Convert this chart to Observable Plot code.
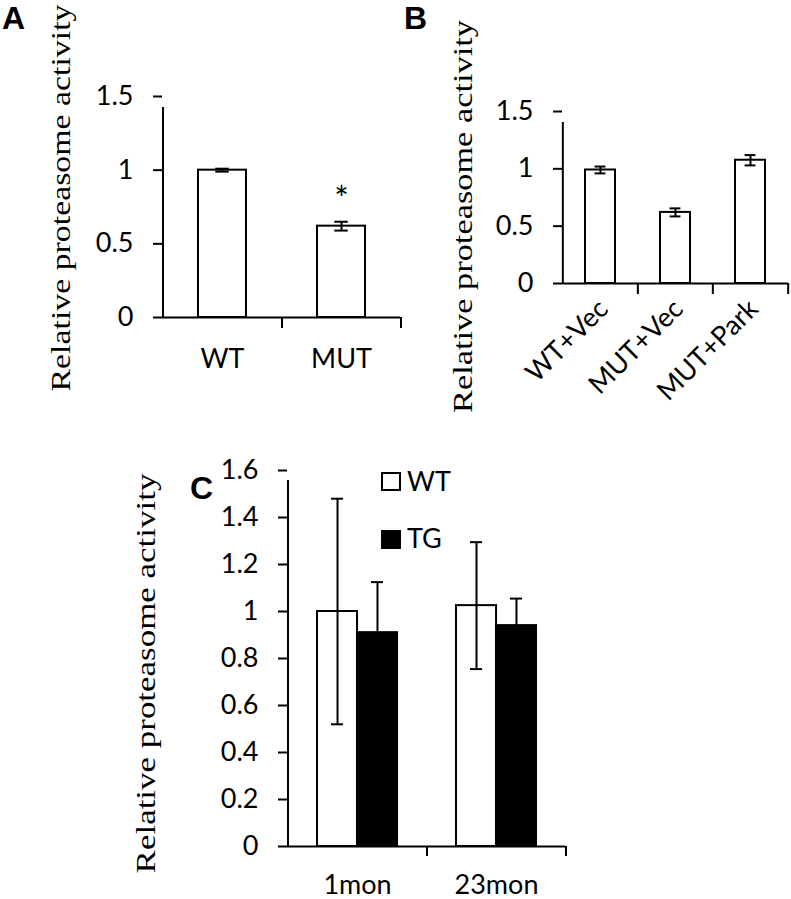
<!DOCTYPE html>
<html><head><meta charset="utf-8">
<script src="https://cdn.jsdelivr.net/npm/d3@7"></script>
<script src="https://cdn.jsdelivr.net/npm/@observablehq/plot@0.6"></script>
<style>
body{margin:0;background:#fff;}
#root{position:relative;width:791px;height:899px;overflow:hidden;background:#fff;}
.panel{position:absolute;}
.plabel{position:absolute;font-family:"Liberation Sans",Arial,sans-serif;font-weight:bold;font-size:32px;line-height:1;color:#000;}
.leg{position:absolute;font-family:Lato,sans-serif;font-size:27px;line-height:27px;color:#000;}
.sw{position:absolute;box-sizing:border-box;border:2px solid #000;}
</style></head><body><div id="root"></div>
<script>
// ---------- data ----------
const yTitle = "Relative proteasome activity";
// Panel A
const aCategories = ["WT", "MUT"];
const aMeans = [1.0, 0.62];
const aErrors = [0.01, 0.03];
const aSignif = ["", "*"];
const aYTicks = [0, 0.5, 1, 1.5];
// Panel B
const bCategories = ["WT+Vec", "MUT+Vec", "MUT+Park"];
const bMeans = [0.99, 0.62, 1.075];
const bErrors = [0.03, 0.035, 0.045];
const bYTicks = [0, 0.5, 1, 1.5];
// Panel C
const cGroups = ["1mon", "23mon"];
const cSeries = ["WT", "TG"];
const cWT = [1.0, 1.025];
const cWTErr = [0.48, 0.27];
const cTG = [0.91, 0.94];
const cTGErr = [0.215, 0.115];
const cYTicks = [0, 0.2, 0.4, 0.6, 0.8, 1, 1.2, 1.4, 1.6];
const cFills = ["white", "black"];

const FS = 27;
const root = document.getElementById("root");
const fmt = d => String(+(+d).toFixed(2));

function addPanel(svg, left, top, titleLen) {
  const d = document.createElement("div");
  d.className = "panel"; d.style.left = left + "px"; d.style.top = top + "px";
  d.appendChild(svg); root.appendChild(d);
  const t = svg.querySelector('text[aria-label="ytitle"]') || svg.querySelector('g[aria-label="ytitle"] text');
  if (t) {
    const nat = t.getComputedTextLength();
    const k = titleLen / nat;
    t.setAttribute("transform", (t.getAttribute("transform") || "") + ` scale(${k},1)`);
  }
}
function addLabel(txt, left, top) {
  const d = document.createElement("div");
  d.className = "plabel"; d.textContent = txt; d.style.left = left + "px"; d.style.top = top + "px";
  root.appendChild(d);
}
function titleMark(dx, dy) {
  return Plot.text([yTitle], {text: d => d, frameAnchor: "left", textAnchor: "middle", lineAnchor: "middle", rotate: -90, dx, dy,
    fontFamily: "Liberation Serif, Times New Roman, serif", fontSize: 28, fill: "black", ariaLabel: () => "ytitle"});
}

// generic single-series bar panel
function barPanel(o) {
  const rows = o.cats.map((c, i) => ({cat: c, mean: o.means[i], err: o.errs[i], sig: o.sig ? o.sig[i] : ""}));
  const step = (o.width - o.ml - o.mr) / o.cats.length;
  const pad = o.pad;
  const bw = step * (1 - pad);
  const capInset = (bw - o.cap) / 2;
  const yMax = d3.max(o.yTicks);
  const bOff = -step / 2; // offset from band center to band boundary
  const last = o.cats[o.cats.length - 1];
  return Plot.plot({
    width: o.width, height: o.height,
    marginLeft: o.ml, marginRight: o.mr, marginTop: o.mt, marginBottom: o.mb,
    style: {background: "transparent", color: "#000", fontFamily: "Lato, sans-serif", fontSize: FS + "px", overflow: "visible"},
    x: {domain: o.cats, type: "band", paddingInner: pad, paddingOuter: pad / 2, axis: null},
    y: {domain: [0, yMax], axis: null},
    marks: [
      Plot.barY(rows, {x: "cat", y: "mean", fill: "white", stroke: "black", strokeWidth: 2}),
      Plot.ruleX(rows, {x: "cat", y1: d => d.mean - d.err, y2: d => d.mean + d.err, stroke: "black", strokeWidth: 2}),
      Plot.tickY(rows, {x: "cat", y: d => d.mean + d.err, insetLeft: capInset, insetRight: capInset, stroke: "black", strokeWidth: 2}),
      Plot.tickY(rows, {x: "cat", y: d => d.mean - d.err, insetLeft: capInset, insetRight: capInset, stroke: "black", strokeWidth: 2}),
      Plot.text(rows, {x: "cat", y: d => d.mean + d.err, text: "sig", dy: -22, fontSize: 34, fill: "black"}),
      Plot.ruleY([0], {stroke: "black", strokeWidth: 2}),
      Plot.ruleX([o.cats[0]], {x: d => d, dx: bOff, y1: 0, y2: yMax, insetBottom: -11, stroke: "black", strokeWidth: 2}),
      Plot.ruleX(o.cats.slice(1), {x: d => d, dx: bOff, y1: 0, y2: 0, insetBottom: -11, stroke: "black", strokeWidth: 2}),
      Plot.ruleX([last], {x: d => d, dx: -bOff, y1: 0, y2: 0, insetBottom: -11, stroke: "black", strokeWidth: 2}),
      Plot.axisY(o.yTicks, {tickSize: 9, tickPadding: 20, tickFormat: fmt, strokeWidth: 2, label: null, fontSize: FS}),
      Plot.axisX({tickSize: 0, tickPadding: o.xPad, tickRotate: o.rot || 0, dx: o.xdx || 0, label: null, fontSize: FS}),
      titleMark(o.tdx, o.tdy)
    ]
  });
}

// Panel A
addPanel(barPanel({cats: aCategories, means: aMeans, errs: aErrors, sig: aSignif, yTicks: aYTicks,
  width: 402, height: 400, ml: 162, mr: 2, mt: 96, mb: 83, pad: 0.6, cap: 13, xPad: 31, tdx: -101, tdy: -9}), 0, 0, 387);
addLabel("A", 2, 2);

// Panel B
addPanel(barPanel({cats: bCategories, means: bMeans, errs: bErrors, yTicks: bYTicks,
  width: 391, height: 420, ml: 162, mr: 3, mt: 111, mb: 137, pad: 0.6, cap: 11, xPad: 21, xdx: 3, rot: -45, tdx: -99, tdy: 19}), 400, 0, 393);
addLabel("B", 404, 2);

// Panel C (grouped)
(function () {
  const rows = [];
  cGroups.forEach((g, i) => {
    rows.push({g, s: cSeries[0], mean: cWT[i], err: cWTErr[i]});
    rows.push({g, s: cSeries[1], mean: cTG[i], err: cTGErr[i]});
  });
  const width = 470, height = 459, ml = 187, mr = 5, mt = 30, mb = 53;
  const step = (width - ml - mr) / cGroups.length;
  const pad = 0.425;
  const bw = step * (1 - pad);
  const half = bw / 2;
  const cap = 12;
  const capInset = (half - cap) / 2;
  const yMax = d3.max(cYTicks);
  const bOff = -step / 2;
  const last = cGroups[cGroups.length - 1];
  const wt = rows.filter(r => r.s === cSeries[0]);
  const tg = rows.filter(r => r.s === cSeries[1]);
  const svg = Plot.plot({
    width, height, marginLeft: ml, marginRight: mr, marginTop: mt, marginBottom: mb,
    style: {background: "transparent", color: "#000", fontFamily: "Lato, sans-serif", fontSize: FS + "px", overflow: "visible"},
    x: {domain: cGroups, type: "band", paddingInner: pad, paddingOuter: pad / 2, axis: null},
    y: {domain: [0, yMax], axis: null},
    marks: [
      Plot.barY(wt, {x: "g", y: "mean", insetRight: half, fill: cFills[0], stroke: "black", strokeWidth: 2}),
      Plot.barY(tg, {x: "g", y: "mean", insetLeft: half, fill: cFills[1], stroke: "black", strokeWidth: 2}),
      Plot.ruleX(wt, {x: "g", dx: -half / 2, y1: d => d.mean - d.err, y2: d => d.mean + d.err, stroke: "black", strokeWidth: 2}),
      Plot.ruleX(tg, {x: "g", dx: half / 2, y1: d => d.mean, y2: d => d.mean + d.err, stroke: "black", strokeWidth: 2}),
      Plot.tickY(wt, {x: "g", y: d => d.mean + d.err, insetLeft: capInset, insetRight: half + capInset, stroke: "black", strokeWidth: 2}),
      Plot.tickY(wt, {x: "g", y: d => d.mean - d.err, insetLeft: capInset, insetRight: half + capInset, stroke: "black", strokeWidth: 2}),
      Plot.tickY(tg, {x: "g", y: d => d.mean + d.err, insetLeft: half + capInset, insetRight: capInset, stroke: "black", strokeWidth: 2}),
      Plot.ruleY([0], {stroke: "black", strokeWidth: 2}),
      Plot.ruleX([cGroups[0]], {x: d => d, dx: bOff, y1: 0, y2: yMax, insetBottom: -10, stroke: "black", strokeWidth: 2}),
      Plot.ruleX(cGroups.slice(1), {x: d => d, dx: bOff, y1: 0, y2: 0, insetBottom: -10, stroke: "black", strokeWidth: 2}),
      Plot.ruleX([last], {x: d => d, dx: -bOff, y1: 0, y2: 0, insetBottom: -10, stroke: "black", strokeWidth: 2}),
      Plot.axisY(cYTicks, {tickSize: 9, tickPadding: 20, tickFormat: fmt, strokeWidth: 2, label: null, fontSize: FS}),
      Plot.axisX({tickSize: 0, tickPadding: 28, label: null, fontSize: FS}),
      titleMark(-141, 15)
    ]
  });
  addPanel(svg, 100, 440, 400);
  addLabel("C", 190, 472);
  // legend
  const legTop = [472, 530], legText = [467, 524];
  cSeries.forEach((s, i) => {
    const sw = document.createElement("div");
    sw.className = "sw"; sw.style.left = "381px"; sw.style.top = legTop[i] + "px";
    sw.style.width = "20px"; sw.style.height = "19px"; sw.style.background = cFills[i];
    root.appendChild(sw);
    const t = document.createElement("div");
    t.className = "leg"; t.textContent = s; t.style.left = "407px"; t.style.top = legText[i] + "px";
    root.appendChild(t);
  });
})();
</script></body></html>
